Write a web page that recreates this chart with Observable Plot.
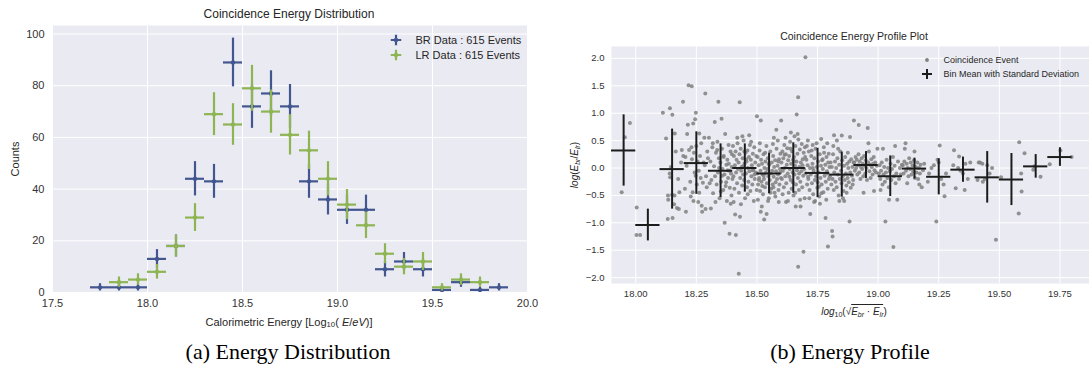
<!DOCTYPE html>
<html><head><meta charset="utf-8">
<script src="https://cdn.jsdelivr.net/npm/d3@7"></script>
<script src="https://cdn.jsdelivr.net/npm/@observablehq/plot@0.6"></script>
<style>
html,body{margin:0;padding:0;background:#fff;}
#wrap{position:relative;width:1089px;height:379px;overflow:hidden;font-family:"Liberation Sans",Arial,sans-serif;color:#262626;}
.abs{position:absolute;white-space:nowrap;line-height:1;}
.c{transform:translate(-50%,-50%);}
.l{transform:translate(0,-50%);}
.r{transform:translate(-50%,-50%) rotate(-90deg);}
.cap{font-family:"Liberation Serif","Times New Roman",serif;font-size:22px;color:#000;}
sub{font-size:70%;vertical-align:-0.25em;line-height:0;}
</style></head><body><div id="wrap"></div>
<script>
// ---------- Left panel: energy distribution ----------
const binCenters = [17.75,17.85,17.95,18.05,18.15,18.25,18.35,18.45,18.55,18.65,18.75,18.85,18.95,19.05,19.15,19.25,19.35,19.45,19.55,19.65,19.75,19.85];
const brCounts   = [2,2,2,13,18,44,43,89,72,77,72,43,36,32,32,9,12,9,1,4,1,2];
const lrCounts   = [0,4,5,8,18,29,69,65,79,70,61,55,44,34,26,15,10,12,2,5,4,0];
const leftXTicks = [17.5,18.0,18.5,19.0,19.5,20.0];
const leftYTicks = [0,20,40,60,80,100];
const seriesNames = ["BR Data : 615 Events","LR Data : 615 Events"];

// ---------- Right panel: energy profile ----------
const profileCenters = [17.95,18.05,18.15,18.25,18.35,18.45,18.55,18.65,18.75,18.85,18.95,19.05,19.15,19.25,19.35,19.45,19.55,19.65,19.75];
const profileMean = [0.32,-1.04,-0.02,0.09,-0.05,0.0,-0.10,0.0,-0.09,-0.12,0.055,-0.15,-0.01,-0.16,-0.03,-0.17,-0.21,0.03,0.20];
const profileStd  = [0.65,0.29,0.73,0.57,0.49,0.44,0.37,0.46,0.45,0.41,0.245,0.37,0.19,0.33,0.23,0.47,0.475,0.215,0.17];
const rightXTicks = [18.0,18.25,18.5,18.75,19.0,19.25,19.5,19.75];
const rightYTicks = [-2.0,-1.5,-1.0,-0.5,0.0,0.5,1.0,1.5,2.0];
const eventPoints = [
[17.976,0.82],[17.955,0.56],[17.942,-0.44],
[18.004,-0.72],[18.003,-1.22],[18.018,-1.22],
[18.112,1.01],[18.141,1.09],[18.151,0.97],[18.195,1.21],[18.125,0.54],[18.161,0.63],[18.132,-0.93],[18.152,-0.91],[18.133,-0.50],[18.134,-0.58],[18.15,-0.49],[18.16,-0.5],[18.17,-0.73],[18.178,-0.75],[18.158,-0.66],[18.14,-0.1],[18.142,-0.17],[18.18,-0.44],[18.19,0.33],[18.187,0.1],[18.165,0.3],[18.145,0.02],[18.175,-0.2],[18.196,0.22],
[18.218,1.51],[18.231,1.49],[18.287,1.36],[18.248,1.01],[18.215,0.79],[18.237,0.81],[18.245,0.89],[18.207,-0.80],[18.274,-0.80],[18.22,0.33],[18.205,0.20],[18.21,0.04],[18.23,0.38],[18.24,0.28],[18.25,0.40],[18.255,0.12],[18.26,-0.05],[18.265,0.22],[18.27,0.45],[18.28,0.10],[18.29,-0.15],[18.295,0.30],[18.225,-0.25],[18.235,-0.44],[18.243,-0.08],[18.252,-0.30],[18.258,-0.62],[18.268,-0.18],[18.277,-0.27],[18.285,0.05],[18.212,0.62],[18.262,0.63],[18.283,0.55],[18.227,-0.52],[18.272,-0.69],[18.293,-0.35],[18.232,0.16],[18.247,-0.14],[18.298,0.18],[18.203,-0.38],[18.288,-0.75],[18.262,-0.45],[18.238,-0.6],
[18.341,1.21],[18.354,0.90],[18.326,0.84],[18.31,-0.74],[18.367,-1.0],[18.387,-1.20],[18.302,0.55],[18.308,0.12],[18.312,-0.22],[18.316,0.38],[18.319,-0.46],[18.323,0.03],[18.327,-0.15],[18.331,0.28],[18.334,-0.30],[18.337,0.48],[18.339,-0.08],[18.343,0.18],[18.346,-0.55],[18.349,0.10],[18.352,-0.25],[18.356,0.35],[18.358,-0.02],[18.361,-0.40],[18.363,0.22],[18.366,-0.12],[18.369,0.62],[18.371,-0.33],[18.374,0.06],[18.376,-0.60],[18.378,0.15],[18.381,-0.18],[18.383,0.42],[18.386,-0.05],[18.388,-0.36],[18.391,0.30],[18.393,-0.10],[18.395,-0.50],[18.397,0.25],[18.399,-0.20],[18.305,-0.28],[18.318,0.45],[18.329,-0.62],[18.344,0.0],[18.351,-0.43],[18.362,0.20],[18.373,-0.26],[18.384,0.08],[18.392,-0.65],[18.336,0.33],[18.357,-0.14],[18.379,-0.04],[18.396,0.02],
[18.429,1.20],[18.425,-1.93],[18.413,-1.22],[18.41,-0.85],[18.43,-0.89],[18.468,0.60],[18.44,0.58],[18.401,0.40],[18.403,-0.15],[18.405,0.22],[18.407,-0.38],[18.409,0.05],[18.412,0.30],[18.414,-0.08],[18.416,0.15],[18.418,-0.28],[18.42,0.45],[18.422,-0.02],[18.424,0.10],[18.426,-0.45],[18.428,0.25],[18.431,-0.18],[18.433,0.35],[18.435,-0.05],[18.437,0.02],[18.439,-0.32],[18.441,0.18],[18.443,-0.12],[18.445,0.50],[18.447,-0.22],[18.449,0.08],[18.451,-0.55],[18.453,0.28],[18.455,-0.10],[18.457,0.12],[18.459,-0.35],[18.461,0.32],[18.463,0.0],[18.465,-0.25],[18.467,0.20],[18.469,-0.06],[18.471,0.42],[18.473,-0.42],[18.475,0.15],[18.477,-0.15],[18.479,0.05],[18.481,-0.30],[18.483,0.26],[18.485,-0.03],[18.487,-0.60],[18.489,0.38],[18.491,-0.20],[18.493,0.10],[18.495,-0.08],[18.497,0.22],[18.499,-0.40],[18.404,-0.62],[18.419,0.55],[18.434,-0.66],[18.448,0.30],[18.462,-0.48],[18.476,0.48],[18.49,-0.12],[18.442,0.03],[18.456,0.16],[18.482,-0.04],
[18.50,0.945],[18.516,0.865],[18.53,-0.94],[18.54,-0.84],[18.516,-0.80],[18.58,0.70],[18.59,-0.62],[18.57,0.55],[18.52,-0.70],[18.501,-0.10],[18.503,0.20],[18.505,-0.30],[18.507,0.05],[18.509,-0.18],[18.511,0.32],[18.513,-0.42],[18.515,-0.05],[18.517,0.15],[18.519,-0.25],[18.521,0.08],[18.523,-0.12],[18.525,-0.48],[18.527,0.25],[18.529,-0.20],[18.531,0.0],[18.533,-0.35],[18.535,0.12],[18.537,-0.08],[18.539,0.40],[18.541,-0.28],[18.543,-0.02],[18.545,0.18],[18.547,-0.15],[18.549,-0.55],[18.551,0.06],[18.553,-0.22],[18.555,0.30],[18.557,-0.10],[18.559,-0.38],[18.561,0.10],[18.563,-0.05],[18.565,-0.30],[18.567,0.22],[18.569,-0.16],[18.571,0.02],[18.573,-0.45],[18.575,0.14],[18.577,-0.26],[18.579,-0.06],[18.581,0.35],[18.583,-0.20],[18.585,0.04],[18.587,-0.12],[18.589,-0.40],[18.591,0.16],[18.593,-0.30],[18.595,-0.02],[18.597,0.26],[18.599,-0.18],[18.504,-0.58],[18.512,0.45],[18.522,-0.33],[18.534,0.28],[18.546,-0.60],[18.556,-0.45],[18.566,0.44],[18.576,-0.52],[18.586,0.50],[18.596,-0.08],[18.508,-0.22],[18.528,-0.14],[18.548,0.08],[18.568,-0.35],[18.588,0.12],
[18.70,2.02],[18.67,1.29],[18.664,0.975],[18.60,0.865],[18.692,-1.53],[18.67,-1.80],[18.64,0.65],[18.68,-0.70],[18.66,-0.70],[18.655,0.58],[18.62,-0.62],[18.601,0.10],[18.603,-0.20],[18.605,0.30],[18.607,-0.05],[18.609,0.18],[18.611,-0.35],[18.613,0.42],[18.615,0.0],[18.617,-0.15],[18.619,0.25],[18.621,-0.28],[18.623,0.06],[18.625,0.36],[18.627,-0.10],[18.629,0.14],[18.631,-0.45],[18.633,0.22],[18.635,-0.02],[18.637,0.48],[18.639,-0.22],[18.641,0.08],[18.643,-0.38],[18.645,0.30],[18.647,-0.08],[18.649,0.15],[18.651,-0.50],[18.653,0.20],[18.655,-0.12],[18.657,0.04],[18.659,0.40],[18.661,-0.30],[18.663,0.12],[18.665,-0.04],[18.667,0.26],[18.669,-0.18],[18.671,0.52],[18.673,-0.40],[18.675,0.02],[18.677,0.34],[18.679,-0.25],[18.681,0.10],[18.683,-0.06],[18.685,0.44],[18.687,-0.35],[18.689,0.16],[18.691,-0.14],[18.693,0.28],[18.695,-0.02],[18.697,-0.55],[18.699,0.20],[18.606,-0.48],[18.618,0.55],[18.628,-0.60],[18.638,0.35],[18.648,-0.26],[18.658,-0.45],[18.668,0.62],[18.678,-0.58],[18.688,0.05],[18.698,0.38],[18.614,0.24],[18.634,-0.16],[18.654,0.12],[18.674,-0.10],
[18.765,0.53],[18.793,-1.43],[18.783,-0.91],[18.72,-0.84],[18.74,-0.60],[18.79,0.45],[18.71,0.50],[18.76,-0.65],[18.73,0.42],[18.701,-0.10],[18.704,0.15],[18.707,-0.30],[18.709,0.05],[18.712,-0.20],[18.714,0.30],[18.717,-0.40],[18.719,0.0],[18.722,-0.12],[18.724,0.22],[18.727,-0.28],[18.729,0.08],[18.732,-0.48],[18.734,-0.05],[18.737,0.18],[18.739,-0.22],[18.742,0.35],[18.744,-0.15],[18.747,0.02],[18.749,-0.36],[18.752,0.12],[18.754,-0.08],[18.757,-0.52],[18.759,0.25],[18.762,-0.18],[18.764,0.04],[18.767,-0.30],[18.769,0.14],[18.772,-0.02],[18.774,-0.44],[18.777,0.28],[18.779,-0.14],[18.782,0.06],[18.784,-0.25],[18.787,0.20],[18.789,-0.06],[18.792,-0.38],[18.794,0.10],[18.797,-0.20],[18.799,0.02],[18.706,0.40],[18.716,-0.55],[18.726,0.32],[18.736,-0.62],[18.746,0.45],[18.756,-0.34],[18.766,-0.46],[18.776,0.38],[18.786,-0.58],[18.796,0.26],[18.711,-0.16],[18.731,0.0],[18.751,-0.26],[18.771,0.16],[18.791,-0.10],
[18.81,-1.15],[18.812,-1.25],[18.818,0.60],[18.85,0.595],[18.884,0.565],[18.882,-0.975],[18.84,-0.60],[18.86,-0.60],[18.83,0.50],[18.87,-0.45],[18.801,-0.15],[18.804,0.10],[18.807,-0.30],[18.809,0.02],[18.812,-0.20],[18.814,0.25],[18.817,-0.40],[18.819,-0.08],[18.822,0.12],[18.824,-0.25],[18.827,0.0],[18.829,-0.35],[18.832,0.18],[18.834,-0.12],[18.837,-0.50],[18.839,0.06],[18.842,-0.20],[18.844,0.30],[18.847,-0.05],[18.849,-0.28],[18.852,0.14],[18.854,-0.15],[18.857,-0.42],[18.859,0.04],[18.862,-0.22],[18.864,0.20],[18.867,-0.10],[18.869,-0.32],[18.872,0.08],[18.874,-0.18],[18.877,0.0],[18.879,-0.26],[18.881,0.12],[18.885,-0.08],[18.887,-0.36],[18.889,0.16],[18.892,-0.14],[18.894,0.02],[18.897,-0.22],[18.899,0.10],[18.815,0.40],[18.835,0.35],[18.855,-0.55],[18.875,0.28],[18.895,-0.30],
[18.90,0.865],[18.92,0.785],[18.957,0.73],[18.983,-0.42],[18.96,0.45],[18.94,-0.45],[18.901,0.10],[18.904,-0.05],[18.907,0.20],[18.909,0.0],[18.912,0.15],[18.914,-0.12],[18.917,0.05],[18.919,0.25],[18.922,-0.08],[18.924,0.12],[18.927,-0.20],[18.929,0.02],[18.932,0.18],[18.934,-0.02],[18.937,0.08],[18.939,-0.15],[18.942,0.22],[18.944,0.04],[18.947,-0.10],[18.949,0.14],[18.952,0.0],[18.954,-0.22],[18.959,0.10],[18.962,0.30],[18.964,-0.06],[18.967,0.06],[18.969,-0.18],[18.972,0.16],[18.974,0.02],[18.977,-0.12],[18.979,0.08],[18.982,0.20],[18.985,-0.04],[18.988,0.10],[18.991,-0.08],[18.994,0.04],[18.997,0.35],
[19.063,-1.44],[19.03,-0.975],[19.045,-0.58],[19.079,-0.58],[19.02,0.35],[19.07,0.40],[19.01,-0.40],[19.003,-0.10],[19.006,0.05],[19.009,-0.20],[19.012,-0.05],[19.015,0.10],[19.018,-0.30],[19.022,-0.12],[19.025,0.02],[19.028,-0.25],[19.032,-0.08],[19.035,0.15],[19.038,-0.18],[19.041,0.0],[19.044,-0.35],[19.048,-0.06],[19.051,0.08],[19.054,-0.22],[19.057,-0.02],[19.061,0.20],[19.065,-0.15],[19.068,0.04],[19.072,-0.28],[19.075,-0.10],[19.082,0.12],[19.086,-0.20],[19.09,0.0],[19.094,-0.12],[19.098,0.06],
[19.113,0.45],[19.11,0.35],[19.15,0.30],[19.18,-0.35],[19.17,-0.30],[19.12,-0.28],[19.102,0.05],[19.105,-0.10],[19.108,0.12],[19.115,-0.05],[19.118,0.08],[19.122,0.0],[19.125,-0.15],[19.128,0.18],[19.132,-0.02],[19.135,0.10],[19.138,-0.12],[19.142,0.04],[19.145,-0.06],[19.148,0.14],[19.152,-0.18],[19.155,0.02],[19.158,-0.08],[19.162,0.10],[19.165,-0.20],[19.168,0.0],[19.172,-0.10],[19.175,0.06],[19.185,-0.04],[19.19,0.08],
[19.254,0.41],[19.24,-0.975],[19.274,-0.515],[19.22,0.0],[19.21,-0.1],[19.23,0.05],[19.26,-0.2],[19.25,0.1],[19.27,-0.3],[19.28,-0.1],[19.205,-0.25],[19.245,0.15],
[19.313,0.325],[19.334,0.21],[19.357,-0.40],[19.32,-0.37],[19.31,0.05],[19.33,0.0],[19.35,-0.1],[19.36,0.08],[19.37,-0.2],[19.38,0.1],[19.34,-0.05],
[19.486,-1.31],[19.42,0.10],[19.43,0.08],[19.44,-0.20],[19.45,0.05],[19.46,-0.10],[19.41,-0.22],[19.47,0.0],[19.432,-0.25],[19.415,0.10],
[19.507,-0.17],[19.59,-0.10],[19.592,-0.43],[19.58,-0.83],[19.582,0.47],
[19.604,0.27],[19.67,-0.16],[19.64,-0.03],[19.645,0.03],
[19.708,0.07],[19.752,0.32],[19.798,0.20]
];

const BLUE = "#42568f", GREEN = "#8db553", BG = "#EAEAF2";
const wrap = document.getElementById("wrap");

function errTable(counts){
  return binCenters.map((x,i)=>({x, n: counts[i]})).filter(d=>d.n>0);
}
const br = errTable(brCounts), lr = errTable(lrCounts);

function seriesMarks(data, color){
  return [
    Plot.ruleY(data,{y:"n", x1:d=>d.x-0.05, x2:d=>d.x+0.05, stroke:color, strokeWidth:2.2}),
    Plot.ruleX(data,{x:"x", y1:d=>d.n-Math.sqrt(d.n), y2:d=>d.n+Math.sqrt(d.n), stroke:color, strokeWidth:2.2}),
    Plot.dot(data,{x:"x", y:"n", r:2.2, fill:color, stroke:"none"})
  ];
}

const left = Plot.plot({
  width:545, height:340, marginLeft:52, marginRight:18, marginTop:25, marginBottom:48,
  style:{fontFamily:'"Liberation Sans",Arial,sans-serif', fontSize:"11px", color:"#333", background:"transparent", overflow:"visible"},
  x:{domain:[17.5,20.0], ticks:leftXTicks, tickFormat:d3.format(".1f"), tickSize:0, tickPadding:7, label:null},
  y:{domain:[0,103.3], ticks:leftYTicks, tickFormat:d3.format("d"), tickSize:0, tickPadding:8, label:null},
  marks:[
    Plot.frame({fill:BG, stroke:"none"}),
    Plot.gridX(leftXTicks,{stroke:"#fff", strokeOpacity:1, strokeWidth:1}),
    Plot.gridY(leftYTicks,{stroke:"#fff", strokeOpacity:1, strokeWidth:1}),
    ...seriesMarks(br, BLUE),
    ...seriesMarks(lr, GREEN)
  ]
});
left.style.position="absolute"; left.style.left="0px"; left.style.top="0px";
wrap.appendChild(left);

const profile = profileCenters.map((x,i)=>({x, m:profileMean[i], s:profileStd[i]}));
const events = eventPoints.map(([x,y])=>({x,y}));

const right = Plot.plot({
  width:560, height:340, marginLeft:66, marginRight:8, marginTop:46, marginBottom:57,
  style:{fontFamily:'"Liberation Sans",Arial,sans-serif', fontSize:"9.5px", color:"#333", background:"transparent"},
  x:{domain:[17.90,19.905], ticks:rightXTicks, tickFormat:d3.format(".2f"), tickSize:0, tickPadding:7, label:null},
  y:{domain:[-2.107,2.217], ticks:rightYTicks, tickFormat:d3.format(".1f"), tickSize:0, tickPadding:7, label:null},
  marks:[
    Plot.frame({fill:BG, stroke:"none"}),
    Plot.gridX(rightXTicks,{stroke:"#fff", strokeOpacity:1, strokeWidth:1}),
    Plot.gridY(rightYTicks,{stroke:"#fff", strokeOpacity:1, strokeWidth:1}),
    Plot.dot(events,{x:"x", y:"y", r:2, fill:"#808080", fillOpacity:0.85, stroke:"none"}),
    Plot.ruleY(profile,{y:"m", x1:d=>d.x-0.05, x2:d=>d.x+0.05, stroke:"#1c1c1c", strokeWidth:2}),
    Plot.ruleX(profile,{x:"x", y1:d=>d.m-d.s, y2:d=>d.m+d.s, stroke:"#1c1c1c", strokeWidth:2})
  ]
});
right.style.position="absolute"; right.style.left="545px"; right.style.top="0px";
wrap.appendChild(right);

// ---------- text overlays ----------
function addText(html, x, y, cls, style){
  const d = document.createElement("div");
  d.className = "abs " + cls;
  d.style.left = x+"px"; d.style.top = y+"px";
  if (style) d.setAttribute("style", d.getAttribute("style")+";"+style);
  d.innerHTML = html;
  wrap.appendChild(d);
  return d;
}
const plusSvg = (color, size, w) => `<svg width="${size}" height="${size}" style="display:block"><line x1="0" x2="${size}" y1="${size/2}" y2="${size/2}" stroke="${color}" stroke-width="${w}"/><line y1="0" y2="${size}" x1="${size/2}" x2="${size/2}" stroke="${color}" stroke-width="${w}"/><circle cx="${size/2}" cy="${size/2}" r="${w}" fill="${color}"/></svg>`;

// left panel
addText("Coincidence Energy Distribution", 289, 14, "c", "font-size:12px;color:#262626");
addText("Calorimetric Energy [Log<sub>10</sub>( <i>E</i>/<i>eV</i>)]", 289, 322, "c", "font-size:11px;color:#262626");
addText("Counts", 15, 159, "r", "font-size:11px;color:#262626");
addText(plusSvg(BLUE, 11, 2.2), 396, 39.5, "c", "");
addText(plusSvg(GREEN, 11, 2.2), 396, 55, "c", "");
addText(seriesNames[0], 415.5, 39.5, "l", "font-size:11px;color:#262626");
addText(seriesNames[1], 415.5, 55, "l", "font-size:11px;color:#262626");

// right panel
addText("Coincidence Energy Profile Plot", 854, 36, "c", "font-size:10.5px;color:#262626");
addText("<i>log</i><sub>10</sub>(√<span style='border-top:1px solid #262626;padding-top:1px'><i>E<sub>br</sub></i> · <i>E<sub>lr</sub></i></span>)", 854, 311.5, "c", "font-size:10px;color:#262626");
addText("<i>log</i>(<i>E<sub>br</sub></i>/<i>E<sub>lr</sub></i>)", 574.5, 165, "r", "font-size:10px;color:#262626");
addText(`<svg width="6" height="6" style="display:block"><circle cx="3" cy="3" r="1.9" fill="#808080"/></svg>`, 926.7, 60, "c", "");
addText(`<svg width="10" height="10" style="display:block"><line x1="0" x2="10" y1="5" y2="5" stroke="#1c1c1c" stroke-width="2"/><line y1="0" y2="10" x1="5" x2="5" stroke="#1c1c1c" stroke-width="2"/></svg>`, 926.7, 73.5, "c", "");
addText("Coincidence Event", 943.5, 59.5, "l", "font-size:9px;color:#262626");
addText("Bin Mean with Standard Deviation", 943.5, 73.5, "l", "font-size:9px;color:#262626");

// captions
addText("(a) Energy Distribution", 288, 352, "c cap", "");
addText("(b) Energy Profile", 850, 352, "c cap", "");
</script></body></html>
